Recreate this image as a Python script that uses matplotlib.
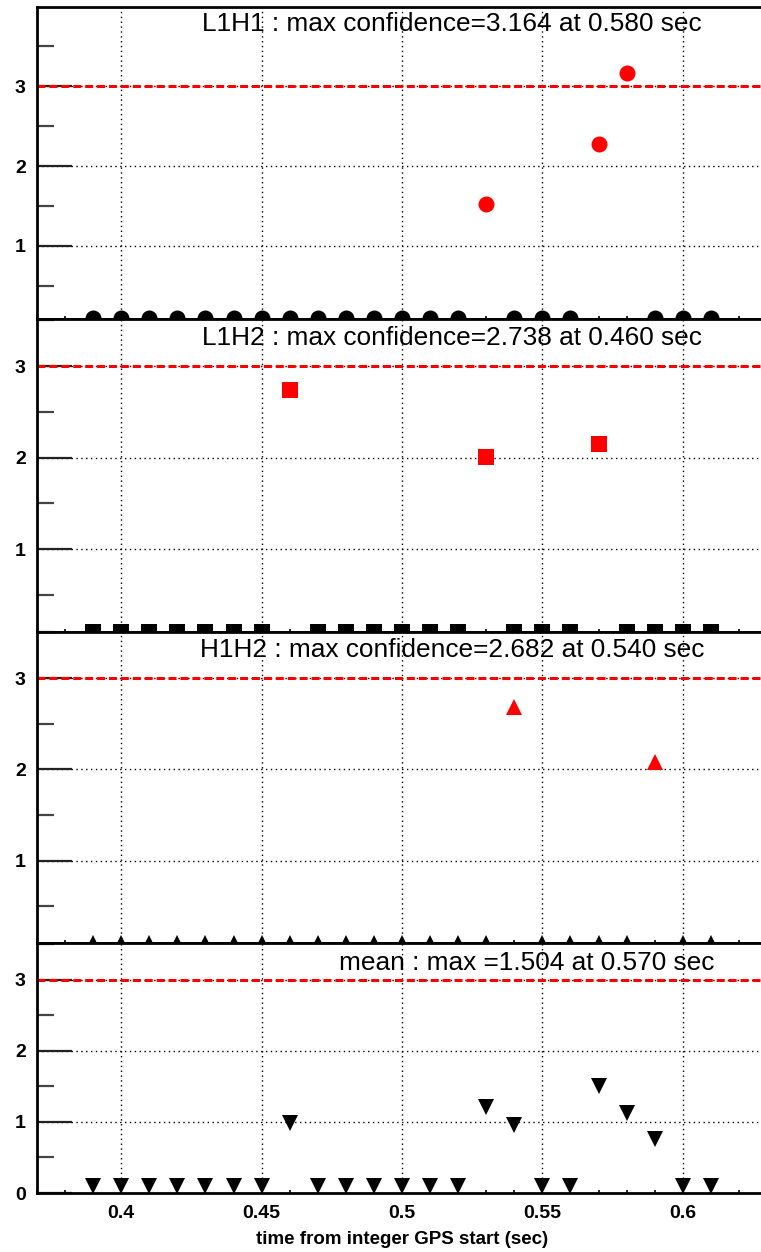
import matplotlib
matplotlib.use("Agg")
import matplotlib.pyplot as plt
import numpy as np
from matplotlib.ticker import MultipleLocator, FixedLocator, FuncFormatter

# ---------------- data ----------------
times = [0.39, 0.40, 0.41, 0.42, 0.43, 0.44, 0.45, 0.46, 0.47, 0.48, 0.49, 0.50,
         0.51, 0.52, 0.53, 0.54, 0.55, 0.56, 0.57, 0.58, 0.59, 0.60, 0.61]
l1h1 = [0.1, 0.1, 0.1, 0.1, 0.1, 0.1, 0.1, 0.1, 0.1, 0.1, 0.1, 0.1,
        0.1, 0.1, 1.52, 0.1, 0.1, 0.1, 2.27, 3.164, 0.1, 0.1, 0.1]
l1h2 = [0.1, 0.1, 0.1, 0.1, 0.1, 0.1, 0.1, 2.738, 0.1, 0.1, 0.1, 0.1,
        0.1, 0.1, 2.01, 0.1, 0.1, 0.1, 2.15, 0.1, 0.1, 0.1, 0.1]
h1h2 = [0.1, 0.1, 0.1, 0.1, 0.1, 0.1, 0.1, 0.1, 0.1, 0.1, 0.1, 0.1,
        0.1, 0.1, 0.1, 2.682, 0.1, 0.1, 0.1, 0.1, 2.08, 0.1, 0.1]
mean = [0.1, 0.1, 0.1, 0.1, 0.1, 0.1, 0.1, 0.979, 0.1, 0.1, 0.1, 0.1,
        0.1, 0.1, 1.214, 0.961, 0.1, 0.1, 1.504, 1.121, 0.760, 0.1, 0.1]
floor_value = 0.1
threshold = 3.0

titles = ["L1H1 : max confidence=3.164 at 0.580 sec",
          "L1H2 : max confidence=2.738 at 0.460 sec",
          "H1H2 : max confidence=2.682 at 0.540 sec",
          "mean : max =1.504 at 0.570 sec"]
series = [l1h1, l1h2, h1h2, mean]
markers = ["o", "s", "^", "v"]
x_label = "time from integer GPS start (sec)"

# ---------------- layout ----------------
W, H = 761, 1252
fig = plt.figure(figsize=(W / 100, H / 100), dpi=100)

def rect(top, bottom, left=37, right=767):
    return [left / W, 1 - bottom / H, (right - left) / W, (bottom - top) / H]

panels = [(7, 319.5), (319.5, 631.5), (631.5, 943), (943, 1193)]
ylims = [(0.08, 3.99), (0.1, 3.51), (0.1, 3.51), (0.0, 3.52)]
title_pos = [(452, 24), (452, 338), (452, 650), (527, 963)]
ms_list = [11.5, 11.0, 11.5, 11.5]

FONT = "Liberation Sans"
t = np.array(times)

for i in range(4):
    top, bottom = panels[i]
    ax = fig.add_axes(rect(top, bottom))
    v = np.array(series[i])
    low = v <= floor_value
    ax.plot(t[low], v[low], ls="none", marker=markers[i], color="black",
            ms=ms_list[i], mew=0, zorder=4)
    hi_color = "black" if i == 3 else "#ff0000"
    ax.plot(t[~low], v[~low], ls="none", marker=markers[i], color=hi_color,
            ms=ms_list[i], mew=0, zorder=4)
    ax.axhline(threshold, color="#ff0000", lw=2.2, ls=(0, (2.6, 1.3)), zorder=3)

    ax.set_xlim(0.37, 0.63)
    ax.set_ylim(*ylims[i])

    ax.xaxis.set_major_locator(MultipleLocator(0.05))
    ax.xaxis.set_minor_locator(MultipleLocator(0.01))
    if i == 3:
        ax.yaxis.set_major_locator(FixedLocator([0, 1, 2, 3]))
    else:
        ax.yaxis.set_major_locator(FixedLocator([1, 2, 3]))
    ax.yaxis.set_minor_locator(MultipleLocator(0.5))
    ax.xaxis.set_major_formatter(FuncFormatter(lambda val, p: f"{val:g}"))
    ax.yaxis.set_major_formatter(FuncFormatter(lambda val, p: f"{val:g}"))

    ax.grid(True, which="major", ls=(0, (1, 2.5)), color="black", lw=1.0, zorder=1)
    ax.tick_params(axis="y", which="major", direction="in", length=25, width=1.6,
                   color="#222222", pad=8, labelsize=14)
    ax.tick_params(axis="y", which="minor", direction="in", length=12.5, width=1.6,
                   color="#444444")
    ax.tick_params(axis="x", which="major", direction="in", length=4, width=1.2,
                   color="black", pad=8.5, labelsize=14, labelbottom=(i == 3))
    ax.tick_params(axis="x", which="minor", direction="in", length=2.2, width=1.2,
                   color="black")
    for lab in ax.get_xticklabels() + ax.get_yticklabels():
        lab.set_fontfamily(FONT)
        lab.set_fontweight("bold")

    for s in ax.spines.values():
        s.set_linewidth(2.0)
        s.set_zorder(5)

    tx, ty = title_pos[i]
    fig.text(tx / W, 1 - ty / H, titles[i], ha="center", va="center",
             fontsize=18.9, family=FONT, color="black")

    if i == 3:
        ax.set_xlabel(x_label, fontsize=13.5, fontweight="bold", family=FONT)
        ax.xaxis.set_label_coords(0.5, (1193 - 1240) / 250)
        ax.xaxis.label.set_va("center")

fig.savefig("out.png", dpi=100)
